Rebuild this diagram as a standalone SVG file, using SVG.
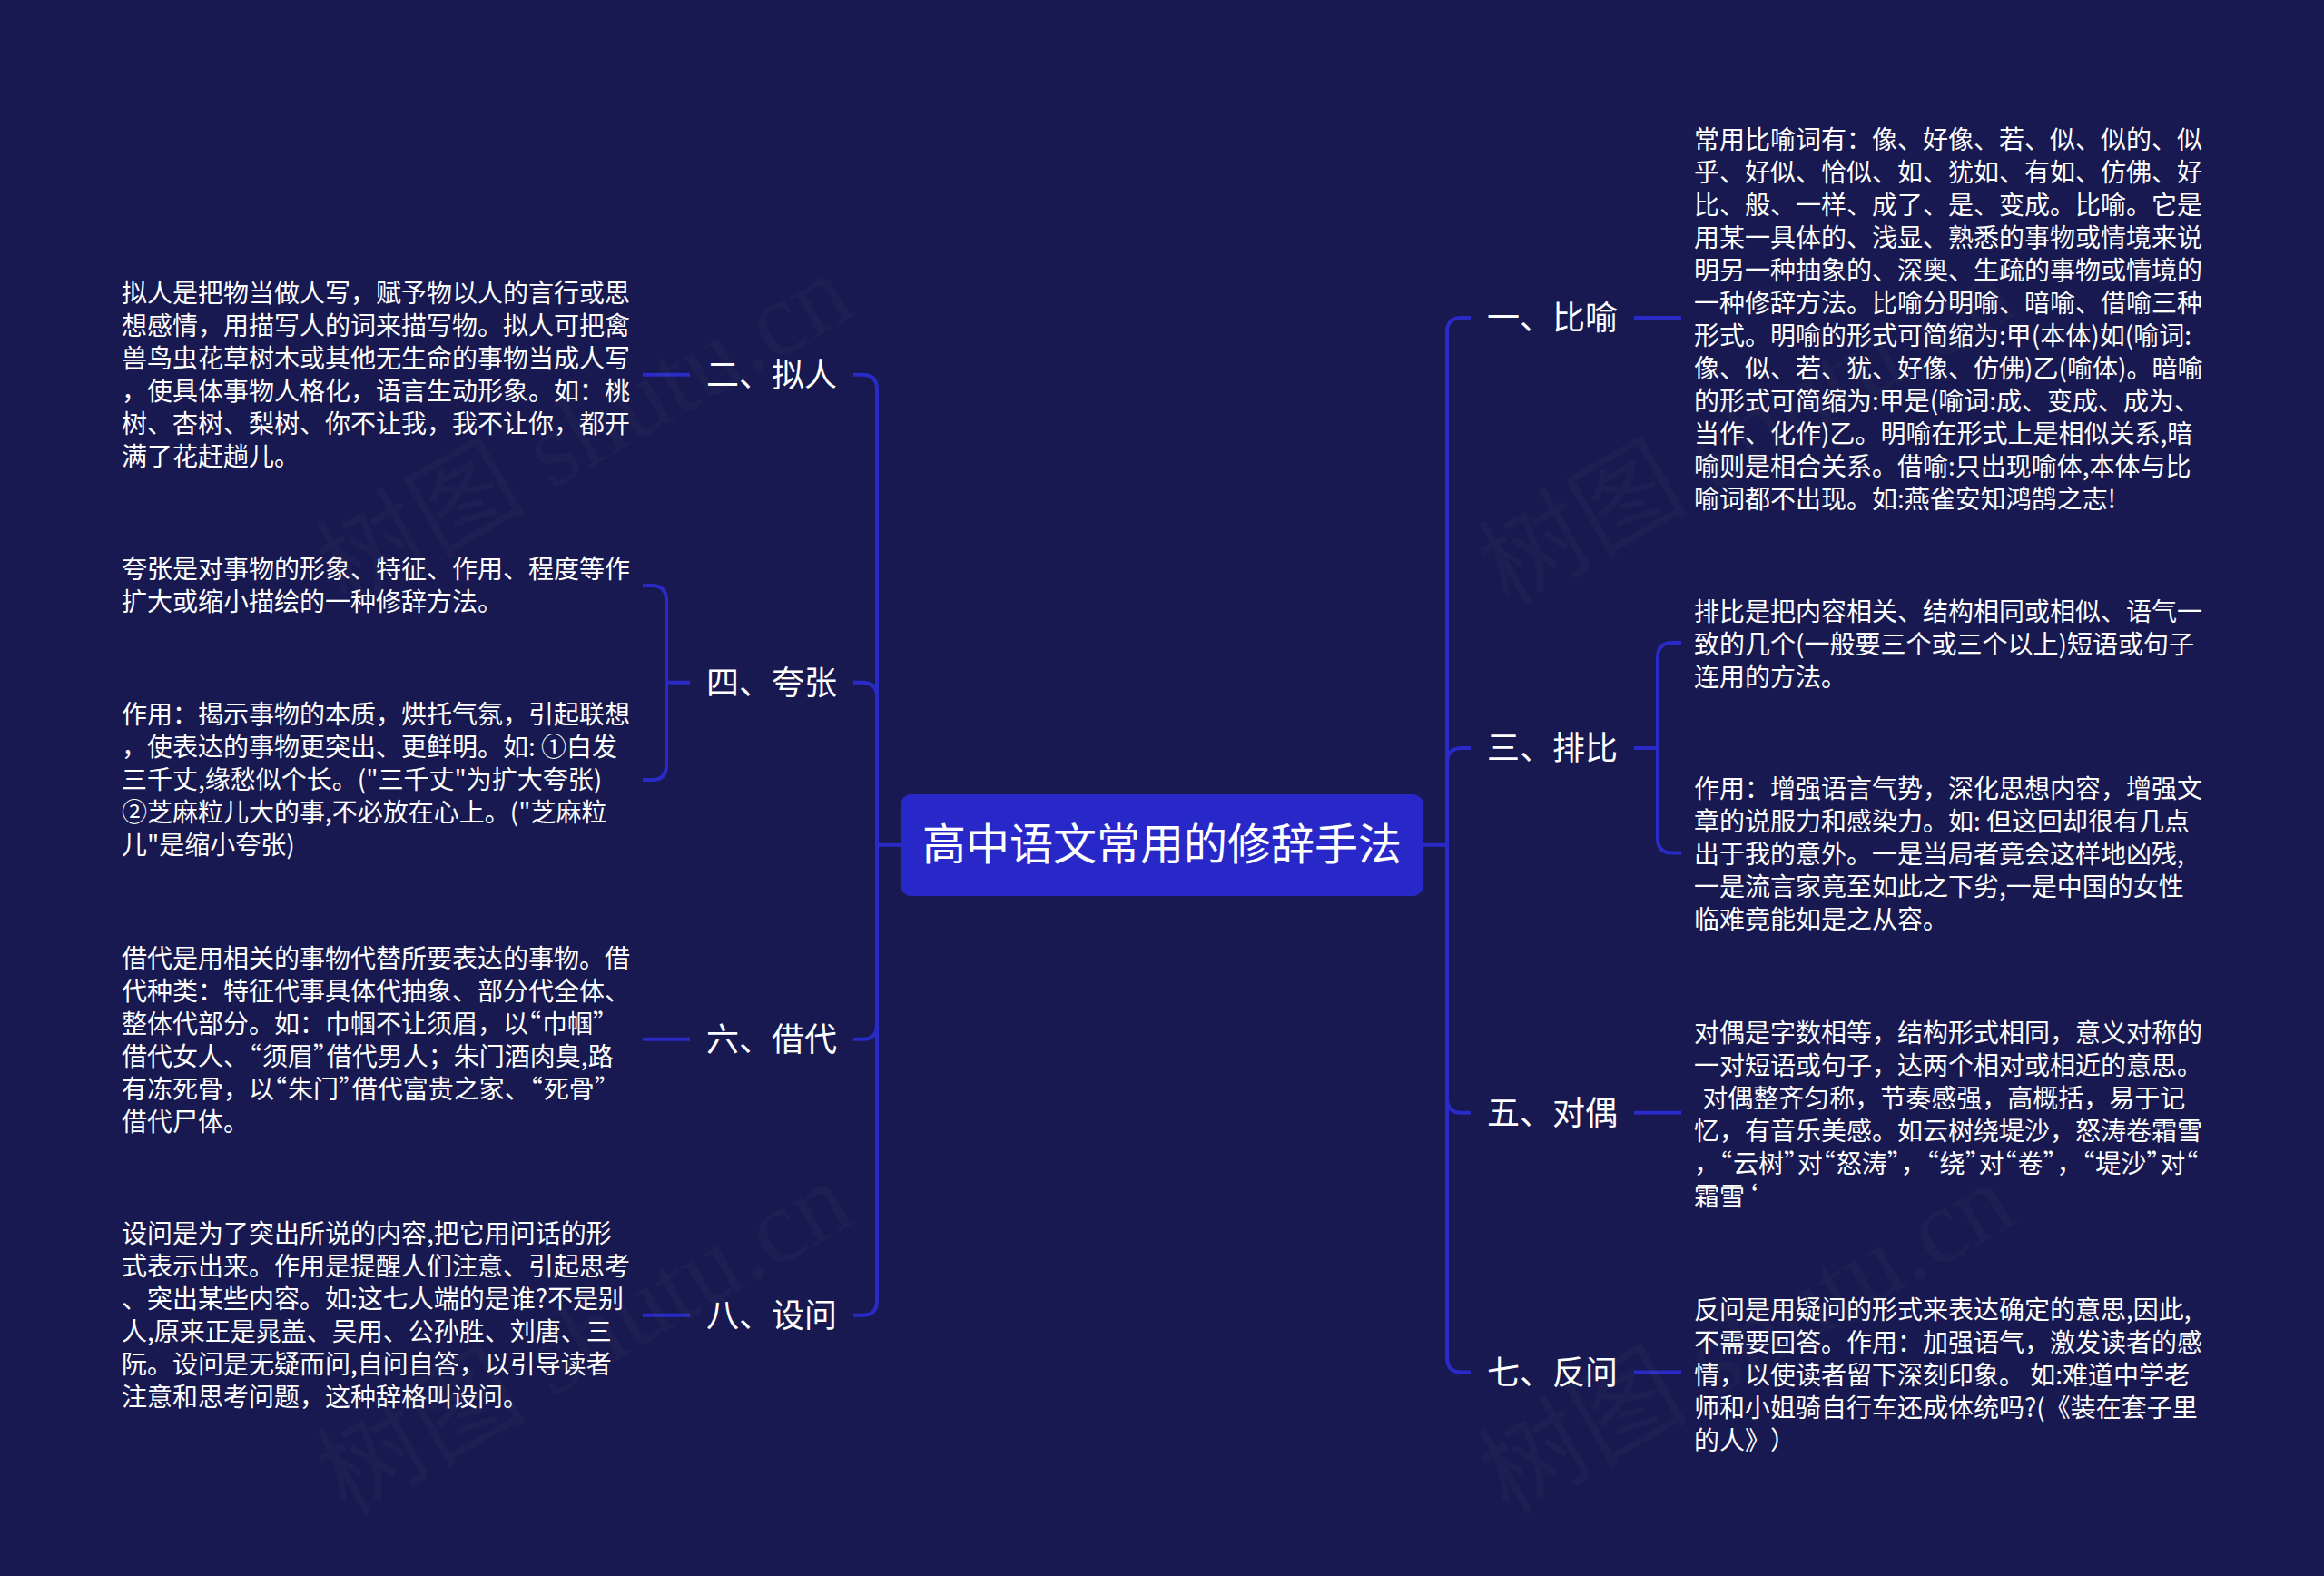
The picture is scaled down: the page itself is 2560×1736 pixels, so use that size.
<svg xmlns="http://www.w3.org/2000/svg" width="2560" height="1736" viewBox="0 0 2560 1736">
<style>
text{font-family:"Noto Sans CJK SC","Noto Sans",sans-serif;fill:#fff;white-space:pre;text-spacing-trim:space-all}
.root{font-size:48px;text-anchor:middle}
.label{font-size:36px}
.leaf{font-size:28px}
.q{font-feature-settings:"halt";letter-spacing:.9px}
.edge{fill:none;stroke:#2a2ac6;stroke-width:4}
.wm{font-family:"Liberation Serif","Noto Sans CJK SC",serif;font-size:116px;fill:#8a8a8a;fill-opacity:.06;text-anchor:end}
</style>
<rect id="background" width="2560" height="1736" fill="#171950"/>
<g id="connectors">
<path class="edge" d="M1568 930.7H1594M1620 350H1610Q1594 350 1594 366V1495.4Q1594 1511.4 1610 1511.4H1620M1620 824H1610Q1594 824 1594 840M1594 1209.7Q1594 1225.7 1610 1225.7H1620"/>
<path class="edge" d="M992 930.7H966M940 412.7H950Q966 412.7 966 428.7V1432.7Q966 1448.7 950 1448.7H940M940 751.7H950Q966 751.7 966 767.7M966 1128.7Q966 1144.7 950 1144.7H940"/>
<path class="edge" d="M1800 350H1852M1800 1225.7H1852M1800 1511.4H1852M1800 824H1826M1852 708H1842Q1826 708 1826 724V923.6Q1826 939.6 1842 939.6H1852"/>
<path class="edge" d="M760 412.7H708M760 1144.7H708M760 1448.7H708M760 751.7H734M708 645H718Q734 645 734 661V843Q734 859 718 859H708"/>
</g>
<g id="root"><rect x="992" y="875" width="576" height="112" rx="12" fill="#2828c8"/><text class="root" x="1280" y="947">高中语文常用的修辞手法</text></g>
<g id="n1"><text class="label" x="1638" y="363">一、比喻</text></g>
<g id="n1a"><text class="leaf" x="1866" y="164"><tspan x="1866">常用比喻词有：像、好像、若、似、似的、似</tspan><tspan x="1866" dy="36">乎、好似、恰似、如、犹如、有如、仿佛、好</tspan><tspan x="1866" dy="36">比、般、一样、成了、是、变成。比喻。它是</tspan><tspan x="1866" dy="36">用某一具体的、浅显、熟悉的事物或情境来说</tspan><tspan x="1866" dy="36">明另一种抽象的、深奥、生疏的事物或情境的</tspan><tspan x="1866" dy="36">一种修辞方法。比喻分明喻、暗喻、借喻三种</tspan><tspan x="1866" dy="36">形式。明喻的形式可简缩为:甲(本体)如(喻词:</tspan><tspan x="1866" dy="36">像、似、若、犹、好像、仿佛)乙(喻体)。暗喻</tspan><tspan x="1866" dy="36">的形式可简缩为:甲是(喻词:成、变成、成为、</tspan><tspan x="1866" dy="36">当作、化作)乙。明喻在形式上是相似关系,暗</tspan><tspan x="1866" dy="36">喻则是相合关系。借喻:只出现喻体,本体与比</tspan><tspan x="1866" dy="36">喻词都不出现。如:燕雀安知鸿鹄之志!</tspan></text></g>
<g id="n3"><text class="label" x="1638" y="837">三、排比</text></g>
<g id="n3a"><text class="leaf" x="1866" y="684"><tspan x="1866">排比是把内容相关、结构相同或相似、语气一</tspan><tspan x="1866" dy="36">致的几个(一般要三个或三个以上)短语或句子</tspan><tspan x="1866" dy="36">连用的方法。</tspan></text></g>
<g id="n3b"><text class="leaf" x="1866" y="879"><tspan x="1866">作用：增强语言气势，深化思想内容，增强文</tspan><tspan x="1866" dy="36">章的说服力和感染力。如: 但这回却很有几点</tspan><tspan x="1866" dy="36">出于我的意外。一是当局者竟会这样地凶残,</tspan><tspan x="1866" dy="36">一是流言家竟至如此之下劣,一是中国的女性</tspan><tspan x="1866" dy="36">临难竟能如是之从容。</tspan></text></g>
<g id="n5"><text class="label" x="1638" y="1239">五、对偶</text></g>
<g id="n5a"><text class="leaf" x="1866" y="1148"><tspan x="1866">对偶是字数相等，结构形式相同，意义对称的</tspan><tspan x="1866" dy="36">一对短语或句子，达两个相对或相近的意思。</tspan><tspan x="1869" dy="36"> 对偶整齐匀称，节奏感强，高概括，易于记</tspan><tspan x="1866" dy="36">忆，有音乐美感。如云树绕堤沙，怒涛卷霜雪</tspan><tspan x="1866" dy="36">，<tspan class="q">“</tspan>云树<tspan class="q">”</tspan>对<tspan class="q">“</tspan>怒涛<tspan class="q">”</tspan>，<tspan class="q">“</tspan>绕<tspan class="q">”</tspan>对<tspan class="q">“</tspan>卷<tspan class="q">”</tspan>，<tspan class="q">“</tspan>堤沙<tspan class="q">”</tspan>对<tspan class="q">“</tspan></tspan><tspan x="1866" dy="36">霜雪<tspan class="q">‘</tspan></tspan></text></g>
<g id="n7"><text class="label" x="1638" y="1525">七、反问</text></g>
<g id="n7a"><text class="leaf" x="1866" y="1453"><tspan x="1866">反问是用疑问的形式来表达确定的意思,因此,</tspan><tspan x="1866" dy="36">不需要回答。作用：加强语气，激发读者的感</tspan><tspan x="1866" dy="36">情，以使读者留下深刻印象。 如:难道中学老</tspan><tspan x="1866" dy="36">师和小姐骑自行车还成体统吗?(《装在套子里</tspan><tspan x="1866" dy="36">的人》）</tspan></text></g>
<g id="n2"><text class="label" x="778" y="426">二、拟人</text></g>
<g id="n2a"><text class="leaf" x="134" y="333"><tspan x="134">拟人是把物当做人写，赋予物以人的言行或思</tspan><tspan x="134" dy="36">想感情，用描写人的词来描写物。拟人可把禽</tspan><tspan x="134" dy="36">兽鸟虫花草树木或其他无生命的事物当成人写</tspan><tspan x="134" dy="36">，使具体事物人格化，语言生动形象。如：桃</tspan><tspan x="134" dy="36">树、杏树、梨树、你不让我，我不让你，都开</tspan><tspan x="134" dy="36">满了花赶趟儿。</tspan></text></g>
<g id="n4"><text class="label" x="778" y="765">四、夸张</text></g>
<g id="n4a"><text class="leaf" x="134" y="637"><tspan x="134">夸张是对事物的形象、特征、作用、程度等作</tspan><tspan x="134" dy="36">扩大或缩小描绘的一种修辞方法。</tspan></text></g>
<g id="n4b"><text class="leaf" x="134" y="797"><tspan x="134">作用：揭示事物的本质，烘托气氛，引起联想</tspan><tspan x="134" dy="36">，使表达的事物更突出、更鲜明。如: ①白发</tspan><tspan x="134" dy="36">三千丈,缘愁似个长。("三千丈"为扩大夸张)</tspan><tspan x="134" dy="36">②芝麻粒儿大的事,不必放在心上。("芝麻粒</tspan><tspan x="134" dy="36">儿"是缩小夸张)</tspan></text></g>
<g id="n6"><text class="label" x="778" y="1158">六、借代</text></g>
<g id="n6a"><text class="leaf" x="134" y="1066"><tspan x="134">借代是用相关的事物代替所要表达的事物。借</tspan><tspan x="134" dy="36">代种类：特征代事具体代抽象、部分代全体、</tspan><tspan x="134" dy="36">整体代部分。如：巾帼不让须眉，以<tspan class="q">“</tspan>巾帼<tspan class="q">”</tspan></tspan><tspan x="134" dy="36">借代女人、<tspan class="q">“</tspan>须眉<tspan class="q">”</tspan>借代男人；朱门酒肉臭,路</tspan><tspan x="134" dy="36">有冻死骨，以<tspan class="q">“</tspan>朱门<tspan class="q">”</tspan>借代富贵之家、<tspan class="q">“</tspan>死骨<tspan class="q">”</tspan></tspan><tspan x="134" dy="36">借代尸体。</tspan></text></g>
<g id="n8"><text class="label" x="778" y="1462">八、设问</text></g>
<g id="n8a"><text class="leaf" x="134" y="1369"><tspan x="134">设问是为了突出所说的内容,把它用问话的形</tspan><tspan x="134" dy="36">式表示出来。作用是提醒人们注意、引起思考</tspan><tspan x="134" dy="36">、突出某些内容。如:这七人端的是谁?不是别</tspan><tspan x="134" dy="36">人,原来正是晁盖、吴用、公孙胜、刘唐、三</tspan><tspan x="134" dy="36">阮。设问是无疑而问,自问自答，以引导读者</tspan><tspan x="134" dy="36">注意和思考问题，这种辞格叫设问。</tspan></text></g>
<g id="watermark">
<text class="wm" transform="translate(945 345) rotate(-30)">树图 shutu.cn</text>
<text class="wm" transform="translate(2225 345) rotate(-30)">树图 shutu.cn</text>
<text class="wm" transform="translate(945 1345) rotate(-30)">树图 shutu.cn</text>
<text class="wm" transform="translate(2225 1345) rotate(-30)">树图 shutu.cn</text>
</g>
</svg>
